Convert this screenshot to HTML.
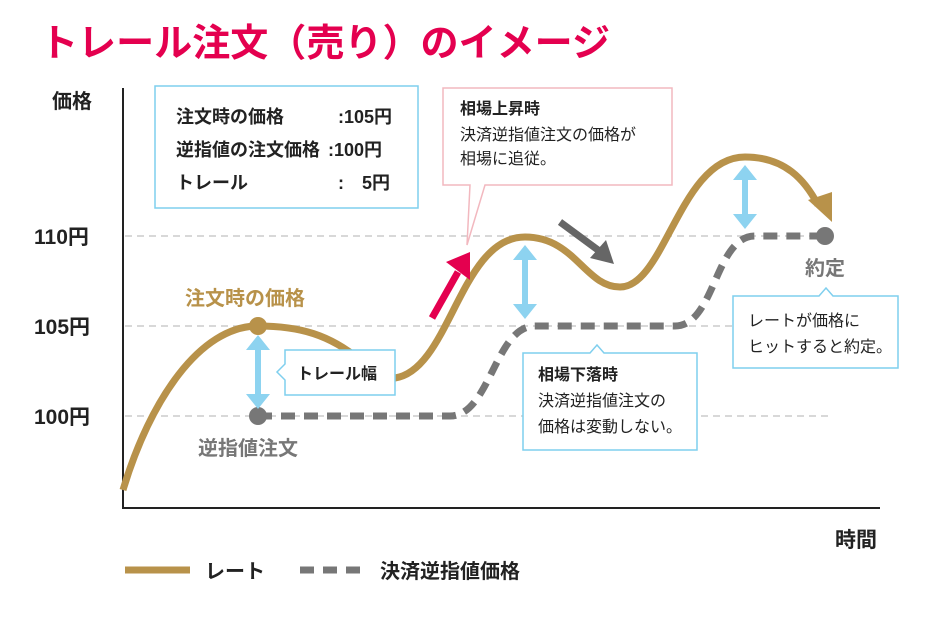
<!DOCTYPE html>
<html><head><meta charset="utf-8"><style>
body{margin:0;background:#fff}
svg{display:block}
text{font-family:"Liberation Sans","Noto Sans CJK JP",sans-serif}
</style></head><body>
<svg width="950" height="628" viewBox="0 0 950 628" xmlns="http://www.w3.org/2000/svg">
<text x="40" y="56" font-size="38" font-weight="bold" fill="#e4004f" textLength="570" lengthAdjust="spacingAndGlyphs">トレール注文（売り）のイメージ</text>
<text x="52" y="108" font-size="20" font-weight="bold" fill="#222">価格</text>
<text x="835" y="547" font-size="21" font-weight="bold" fill="#222">時間</text>
<text x="34" y="244" font-size="21" font-weight="bold" fill="#222">110円</text>
<text x="34" y="334" font-size="21" font-weight="bold" fill="#222">105円</text>
<text x="34" y="424" font-size="21" font-weight="bold" fill="#222">100円</text>
<g stroke="#ccc" stroke-width="1.5" stroke-dasharray="7,5">
<line x1="125" y1="236" x2="830" y2="236"/><line x1="125" y1="326" x2="830" y2="326"/><line x1="125" y1="416" x2="830" y2="416"/>
</g>
<path d="M123 88 V508 H880" fill="none" stroke="#222" stroke-width="2"/>
<path d="M258 416 H450 C490 416 495 326 535 326 H675 C715 326 715 236 755 236 H825" fill="none" stroke="#777" stroke-width="7" stroke-dasharray="14,9"/>
<path d="M123 490 C150 400 200 326 258 326 C300 326 330 335 360 360" fill="none" stroke="#b8924a" stroke-width="7"/>
<path d="M395 378 C450 370 460 237 525 237 C575 237 585 287 620 287 C665 287 680 157 745 157 C785 157 805 180 818 205" fill="none" stroke="#b8924a" stroke-width="7"/>
<path d="M808 200 L832 222 L832 192 z" fill="#b8924a"/>
<circle cx="258" cy="326" r="9" fill="#b8924a"/>
<circle cx="258" cy="416" r="9" fill="#777"/>
<circle cx="825" cy="236" r="9" fill="#777"/>
<g stroke="#8dd3f0" stroke-width="6">
<line x1="258" y1="348" x2="258" y2="396"/><line x1="525" y1="258" x2="525" y2="306"/><line x1="745" y1="178" x2="745" y2="216"/>
</g>
<g fill="#8dd3f0">
<path d="M246 350 L258 335 L270 350z M246 394 L258 409 L270 394z"/>
<path d="M513 260 L525 245 L537 260z M513 304 L525 319 L537 304z"/>
<path d="M733 180 L745 165 L757 180z M733 214 L745 229 L757 214z"/>
</g>
<line x1="432" y1="318" x2="458" y2="272" stroke="#e4004f" stroke-width="7"/>
<path d="M446 262 L470 252 L470 280z" fill="#e4004f"/>
<line x1="560" y1="222" x2="598" y2="250" stroke="#666" stroke-width="7"/>
<path d="M590 258 L614 264 L606 240z" fill="#666"/>
<text x="185" y="305" font-size="20" font-weight="bold" fill="#b8924a">注文時の価格</text>
<text x="198" y="455" font-size="20" font-weight="bold" fill="#777">逆指値注文</text>
<text x="805" y="275" font-size="20" font-weight="bold" fill="#777">約定</text>
<rect x="155" y="86" width="263" height="122" fill="#fff" stroke="#7fcfee" stroke-width="1.5"/>
<g font-size="18" font-weight="bold" fill="#222">
<text x="176" y="123">注文時の価格</text><text x="338" y="123">:105円</text>
<text x="176" y="156">逆指値の注文価格</text><text x="328" y="156">:100円</text>
<text x="176" y="189">トレール</text><text x="338" y="189">:　5円</text>
</g>
<path d="M443 88 H672 V185 H485 L467 245 L470 185 H443 Z" fill="#fff" stroke="#f2b8bf" stroke-width="1.5"/>
<text x="460" y="114" font-size="16" font-weight="bold" fill="#222">相場上昇時</text>
<text x="460" y="140" font-size="16" fill="#222">決済逆指値注文の価格が</text>
<text x="460" y="164" font-size="16" fill="#222">相場に追従。</text>
<path d="M285 350 H395 V395 H285 V380 L277 372 L285 364 Z" fill="#fff" stroke="#7fcfee" stroke-width="1.5"/>
<text x="297" y="379" font-size="16" font-weight="bold" fill="#222">トレール幅</text>
<path d="M523 353 H590 L597 345 L604 353 H697 V450 H523 Z" fill="#fff" stroke="#7fcfee" stroke-width="1.5"/>
<text x="538" y="380" font-size="16" font-weight="bold" fill="#222">相場下落時</text>
<text x="538" y="406" font-size="16" fill="#222">決済逆指値注文の</text>
<text x="538" y="432" font-size="16" fill="#222">価格は変動しない。</text>
<path d="M733 296 H819 L826 288 L833 296 H898 V368 H733 Z" fill="#fff" stroke="#7fcfee" stroke-width="1.5"/>
<text x="748" y="326" font-size="16" fill="#222">レートが価格に</text>
<text x="748" y="352" font-size="16" fill="#222">ヒットすると約定。</text>
<line x1="125" y1="570" x2="190" y2="570" stroke="#b8924a" stroke-width="7"/>
<text x="205" y="578" font-size="20" font-weight="bold" fill="#222">レート</text>
<line x1="300" y1="570" x2="365" y2="570" stroke="#777" stroke-width="7" stroke-dasharray="14,9"/>
<text x="380" y="578" font-size="20" font-weight="bold" fill="#222">決済逆指値価格</text>
</svg>
</body></html>
